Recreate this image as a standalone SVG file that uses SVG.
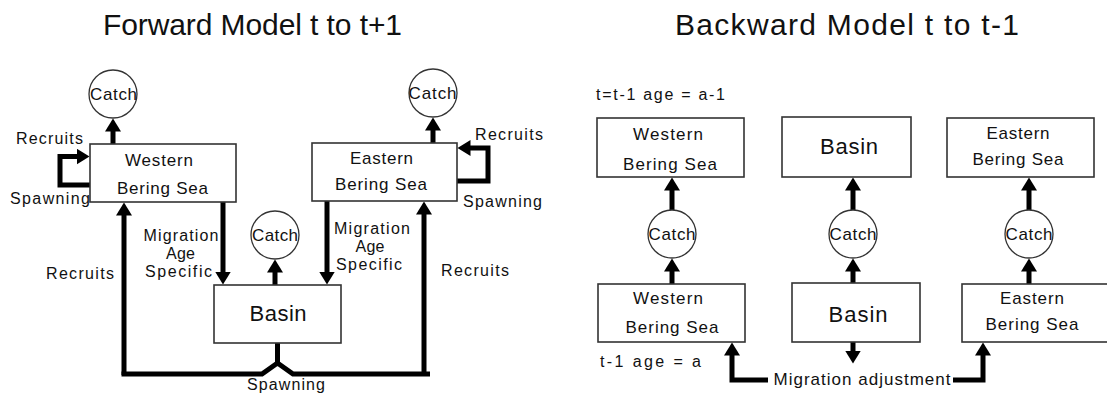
<svg xmlns="http://www.w3.org/2000/svg" width="1107" height="393" viewBox="0 0 1107 393">
<defs>
<style>
text{font-family:"Liberation Sans",Arial,sans-serif;fill:#111;text-anchor:middle}
.t{font-size:30px}
.l{font-size:16px}
.b{font-size:17px}
.big{font-size:22px}
.box{fill:#fff;stroke:#333;stroke-width:1.6}
.cir{fill:#fff;stroke:#333;stroke-width:1.3}
.ln{fill:none;stroke:#000;stroke-width:5}
.ar{fill:none;stroke:#000;stroke-width:5;marker-end:url(#ah)}
</style>
<marker id="ah" markerUnits="userSpaceOnUse" markerWidth="14" markerHeight="16" refX="0.5" refY="8" orient="auto"><path d="M0,0 L13,8 L0,16 z" fill="#000"/></marker>
</defs>
<rect width="1107" height="393" fill="#fff"/>

<!-- Titles -->
<text class="t" x="252.5" y="35" textLength="299" lengthAdjust="spacing">Forward Model t to t+1</text>
<text class="t" x="847" y="35" textLength="344" lengthAdjust="spacing">Backward Model t to t-1</text>

<!-- Connectors -->
<g id="connectors">
<!-- forward -->
<line class="ar" x1="113" y1="144" x2="113" y2="131"/>
<line class="ar" x1="433" y1="143" x2="433" y2="130"/>
<path class="ar" d="M90 185 H60 V156.5 H77"/>
<path class="ar" d="M457 181 H488 V148 H470"/>
<line class="ar" x1="223" y1="202" x2="223" y2="272"/>
<line class="ar" x1="327" y1="201" x2="327" y2="272"/>
<line class="ar" x1="275" y1="285" x2="275" y2="272"/>
<line class="ar" x1="124" y1="375" x2="124" y2="215"/>
<line class="ar" x1="424" y1="375" x2="424" y2="214"/>
<path class="ln" d="M121.5 374 H262 L277.5 363 L293 374 H430"/>
<line class="ln" x1="277.5" y1="343" x2="277.5" y2="364"/>
<!-- backward -->
<line class="ar" x1="672" y1="210" x2="672" y2="190"/>
<line class="ar" x1="853" y1="210" x2="853" y2="190"/>
<line class="ar" x1="1029" y1="210" x2="1029" y2="190"/>
<line class="ar" x1="672" y1="284" x2="672" y2="271"/>
<line class="ar" x1="853" y1="284" x2="853" y2="271"/>
<line class="ar" x1="1029" y1="284" x2="1029" y2="271"/>
<line class="ar" x1="853" y1="342" x2="853" y2="351"/>
<path class="ar" d="M768 380 H732 V355"/>
<path class="ar" d="M953 380 H983 V355"/>
</g>

<!-- Forward nodes -->
<g id="fw-western">
<rect class="box" x="90" y="144" width="146" height="58"/>
<text class="b" x="159" y="166" textLength="68" lengthAdjust="spacing">Western</text>
<text class="b" x="162.5" y="194" textLength="91" lengthAdjust="spacing">Bering Sea</text>
</g>
<g id="fw-western-catch">
<circle class="cir" cx="113" cy="94" r="24"/>
<text class="b" x="113.5" y="100" textLength="47" lengthAdjust="spacing">Catch</text>
</g>
<g id="fw-eastern">
<rect class="box" x="312" y="143" width="145" height="58"/>
<text class="b" x="381.5" y="164" textLength="63" lengthAdjust="spacing">Eastern</text>
<text class="b" x="381" y="190" textLength="92" lengthAdjust="spacing">Bering Sea</text>
</g>
<g id="fw-eastern-catch">
<circle class="cir" cx="433" cy="93" r="24"/>
<text class="b" x="432.5" y="99" textLength="48" lengthAdjust="spacing">Catch</text>
</g>
<g id="fw-basin">
<rect class="box" x="214" y="285" width="127" height="58"/>
<text class="big" x="278" y="321" textLength="57" lengthAdjust="spacing">Basin</text>
</g>
<g id="fw-basin-catch">
<circle class="cir" cx="275" cy="235" r="24"/>
<text class="b" x="275" y="241" textLength="46" lengthAdjust="spacing">Catch</text>
</g>

<!-- Forward labels -->
<g id="fw-labels">
<text class="l" x="49.5" y="144" textLength="67" lengthAdjust="spacing">Recruits</text>
<text class="l" x="50" y="204" textLength="80" lengthAdjust="spacing">Spawning</text>
<text class="l" x="509" y="140" textLength="68" lengthAdjust="spacing">Recruits</text>
<text class="l" x="502.5" y="207" textLength="79" lengthAdjust="spacing">Spawning</text>
<text class="l" x="181" y="241" textLength="75" lengthAdjust="spacing">Migration</text>
<text class="l" x="180.5" y="259" textLength="29" lengthAdjust="spacing">Age</text>
<text class="l" x="178.5" y="277" textLength="67" lengthAdjust="spacing">Specific</text>
<text class="l" x="372" y="234" textLength="76" lengthAdjust="spacing">Migration</text>
<text class="l" x="370" y="252" textLength="29" lengthAdjust="spacing">Age</text>
<text class="l" x="369" y="270" textLength="66" lengthAdjust="spacing">Specific</text>
<text class="l" x="80" y="279" textLength="68" lengthAdjust="spacing">Recruits</text>
<text class="l" x="475" y="276" textLength="68" lengthAdjust="spacing">Recruits</text>
<text class="l" x="286" y="390" textLength="78" lengthAdjust="spacing">Spawning</text>
</g>

<!-- Backward nodes -->
<g id="bw-western-top">
<rect class="box" x="597" y="118" width="147" height="59"/>
<text class="b" x="668" y="140" textLength="70" lengthAdjust="spacing">Western</text>
<text class="b" x="670" y="170" textLength="94" lengthAdjust="spacing">Bering Sea</text>
</g>
<g id="bw-basin-top">
<rect class="box" x="782" y="117" width="129" height="60"/>
<text class="big" x="849" y="154" textLength="58" lengthAdjust="spacing">Basin</text>
</g>
<g id="bw-eastern-top">
<rect class="box" x="947" y="118" width="147" height="59"/>
<text class="b" x="1018" y="139" textLength="63" lengthAdjust="spacing">Eastern</text>
<text class="b" x="1018" y="165" textLength="91" lengthAdjust="spacing">Bering Sea</text>
</g>
<g id="bw-catch-w">
<circle class="cir" cx="672" cy="234" r="24"/>
<text class="b" x="672" y="240" textLength="47" lengthAdjust="spacing">Catch</text>
</g>
<g id="bw-catch-b">
<circle class="cir" cx="853" cy="234" r="24"/>
<text class="b" x="853" y="240" textLength="47" lengthAdjust="spacing">Catch</text>
</g>
<g id="bw-catch-e">
<circle class="cir" cx="1029" cy="234" r="24"/>
<text class="b" x="1029" y="240" textLength="47" lengthAdjust="spacing">Catch</text>
</g>
<g id="bw-western-bottom">
<rect class="box" x="598" y="284" width="147" height="58"/>
<text class="b" x="668" y="304" textLength="70" lengthAdjust="spacing">Western</text>
<text class="b" x="672" y="333" textLength="93" lengthAdjust="spacing">Bering Sea</text>
</g>
<g id="bw-basin-bottom">
<rect class="box" x="792" y="283" width="128" height="59"/>
<text class="big" x="858" y="322" textLength="59" lengthAdjust="spacing">Basin</text>
</g>
<g id="bw-eastern-bottom">
<rect class="box" x="962" y="284" width="146" height="58"/>
<text class="b" x="1032" y="304" textLength="64" lengthAdjust="spacing">Eastern</text>
<text class="b" x="1032" y="330" textLength="93" lengthAdjust="spacing">Bering Sea</text>
</g>

<!-- Backward labels -->
<g id="bw-labels">
<text class="l" x="660.5" y="100" textLength="129" lengthAdjust="spacing">t=t-1  age = a-1</text>
<text class="l" x="650.5" y="367" textLength="101" lengthAdjust="spacing">t-1  age = a</text>
<text class="b" x="862" y="385" textLength="177" lengthAdjust="spacing">Migration adjustment</text>
</g>
</svg>
